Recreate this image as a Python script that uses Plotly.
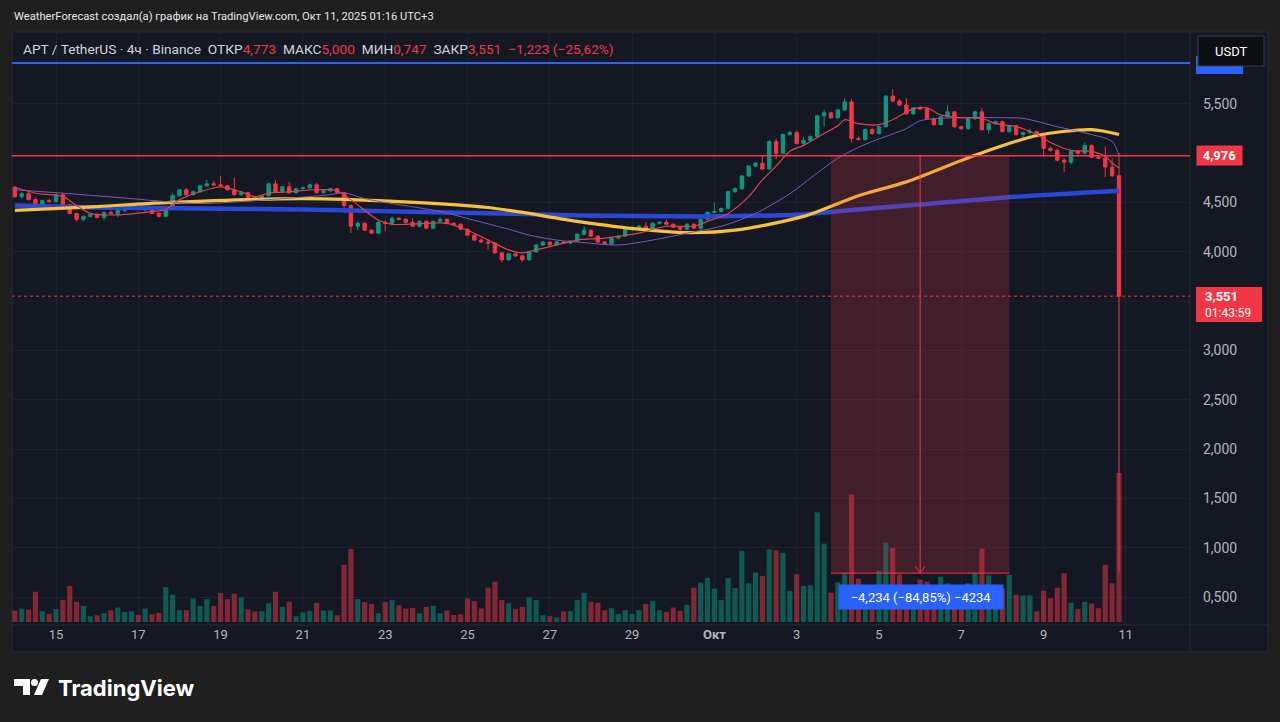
import plotly.graph_objects as go
import pandas as pd

# APT/USDT, 4h bars (UTC+3), first bar Sep 14 03:00, last bar Oct 10 23:00
bar_start = "2025-09-14 03:00"

opens = [4.655, 4.56, 4.59, 4.53, 4.48, 4.52, 4.51, 4.58, 4.48, 4.39,
         4.33, 4.36, 4.38, 4.35, 4.40, 4.39, 4.42, 4.44, 4.45, 4.43,
         4.44, 4.39, 4.36, 4.46, 4.57, 4.63, 4.58, 4.61, 4.67, 4.69,
         4.68, 4.67, 4.63, 4.58, 4.60, 4.55, 4.54, 4.57, 4.69, 4.61,
         4.66, 4.60, 4.64, 4.65, 4.68, 4.60, 4.62, 4.64, 4.60, 4.47,
         4.26, 4.29, 4.22, 4.19, 4.30, 4.29, 4.34, 4.33, 4.30, 4.26,
         4.31, 4.24, 4.31, 4.33, 4.29, 4.28, 4.23, 4.17, 4.12, 4.10,
         4.09, 3.99, 3.92, 3.98, 3.96, 3.92, 4.00, 4.07, 4.10, 4.07,
         4.10, 4.09, 4.11, 4.18, 4.22, 4.16, 4.10, 4.08, 4.14, 4.16,
         4.23, 4.25, 4.26, 4.23, 4.29, 4.30, 4.28, 4.25, 4.23, 4.28,
         4.24, 4.33, 4.40, 4.41, 4.44, 4.61, 4.64, 4.77, 4.87, 4.90,
         4.84, 5.12, 5.00, 5.19, 5.21, 5.10, 5.13, 5.17, 5.38, 5.41,
         5.36, 5.44, 5.52, 5.15, 5.14, 5.24, 5.20, 5.27, 5.58, 5.53,
         5.49, 5.40, 5.46, 5.45, 5.35, 5.29, 5.37, 5.42, 5.27, 5.25,
         5.35, 5.42, 5.24, 5.30, 5.32, 5.22, 5.28, 5.19, 5.21, 5.22,
         5.18, 5.05, 5.03, 4.93, 4.91, 5.02, 5.00, 5.08, 4.96, 4.95,
         4.86, 4.773]
highs = [4.67, 4.61, 4.61, 4.55, 4.53, 4.54, 4.59, 4.60, 4.49, 4.40,
         4.37, 4.39, 4.39, 4.41, 4.42, 4.43, 4.45, 4.46, 4.46, 4.45,
         4.45, 4.41, 4.47, 4.60, 4.64, 4.65, 4.62, 4.68, 4.73, 4.72,
         4.77, 4.68, 4.75, 4.62, 4.61, 4.56, 4.58, 4.70, 4.73, 4.67,
         4.71, 4.65, 4.66, 4.69, 4.70, 4.63, 4.65, 4.65, 4.61, 4.48,
         4.31, 4.30, 4.23, 4.31, 4.32, 4.36, 4.35, 4.34, 4.34, 4.32,
         4.32, 4.32, 4.35, 4.34, 4.30, 4.29, 4.24, 4.18, 4.14, 4.13,
         4.10, 4.00, 3.99, 3.99, 3.97, 4.01, 4.08, 4.11, 4.11, 4.11,
         4.11, 4.12, 4.19, 4.26, 4.23, 4.17, 4.11, 4.15, 4.17, 4.24,
         4.26, 4.27, 4.30, 4.30, 4.31, 4.33, 4.29, 4.26, 4.29, 4.29,
         4.34, 4.41, 4.50, 4.45, 4.62, 4.66, 4.78, 4.88, 4.91, 4.98,
         5.13, 5.15, 5.20, 5.23, 5.23, 5.17, 5.18, 5.39, 5.44, 5.42,
         5.45, 5.56, 5.55, 5.17, 5.25, 5.26, 5.28, 5.59, 5.65, 5.55,
         5.56, 5.47, 5.48, 5.47, 5.36, 5.38, 5.49, 5.43, 5.28, 5.36,
         5.43, 5.46, 5.31, 5.33, 5.33, 5.29, 5.29, 5.22, 5.25, 5.23,
         5.19, 5.07, 5.05, 4.95, 5.03, 5.03, 5.11, 5.09, 4.98, 5.07,
         4.95, 5.000]
lows = [4.55, 4.54, 4.52, 4.47, 4.46, 4.50, 4.50, 4.46, 4.38, 4.31,
        4.31, 4.35, 4.34, 4.32, 4.38, 4.35, 4.40, 4.43, 4.42, 4.40,
        4.38, 4.35, 4.35, 4.45, 4.56, 4.55, 4.57, 4.60, 4.66, 4.67,
        4.66, 4.62, 4.57, 4.57, 4.54, 4.52, 4.53, 4.56, 4.60, 4.60,
        4.59, 4.59, 4.62, 4.63, 4.59, 4.59, 4.60, 4.59, 4.40, 4.19,
        4.22, 4.21, 4.18, 4.18, 4.21, 4.27, 4.32, 4.29, 4.25, 4.25,
        4.23, 4.23, 4.30, 4.28, 4.26, 4.22, 4.16, 4.11, 4.09, 4.02,
        3.98, 3.89, 3.91, 3.95, 3.90, 3.91, 3.99, 4.06, 4.06, 4.06,
        4.08, 4.08, 4.10, 4.17, 4.15, 4.09, 4.07, 4.07, 4.13, 4.15,
        4.21, 4.23, 4.21, 4.21, 4.28, 4.27, 4.24, 4.22, 4.22, 4.23,
        4.22, 4.32, 4.39, 4.40, 4.43, 4.60, 4.63, 4.76, 4.86, 4.83,
        4.83, 4.94, 4.99, 5.18, 5.09, 5.08, 5.12, 5.16, 5.27, 5.35,
        5.35, 5.43, 5.11, 5.13, 5.13, 5.19, 5.19, 5.26, 5.52, 5.48,
        5.39, 5.39, 5.44, 5.34, 5.28, 5.28, 5.36, 5.26, 5.24, 5.24,
        5.34, 5.23, 5.20, 5.29, 5.21, 5.21, 5.18, 5.16, 5.19, 5.17,
        4.98, 5.02, 4.92, 4.81, 4.89, 4.99, 4.99, 4.95, 4.94, 4.76,
        4.76, 0.747]
closes = [4.56, 4.59, 4.53, 4.48, 4.52, 4.51, 4.58, 4.48, 4.39, 4.33,
          4.36, 4.38, 4.35, 4.40, 4.39, 4.42, 4.44, 4.45, 4.43, 4.44,
          4.39, 4.36, 4.46, 4.57, 4.63, 4.58, 4.61, 4.67, 4.69, 4.68,
          4.67, 4.63, 4.58, 4.60, 4.55, 4.54, 4.57, 4.69, 4.61, 4.66,
          4.60, 4.64, 4.65, 4.68, 4.60, 4.62, 4.64, 4.60, 4.47, 4.26,
          4.29, 4.22, 4.19, 4.30, 4.29, 4.34, 4.33, 4.30, 4.26, 4.31,
          4.24, 4.31, 4.33, 4.29, 4.28, 4.23, 4.17, 4.12, 4.10, 4.09,
          3.99, 3.92, 3.98, 3.96, 3.92, 4.00, 4.07, 4.10, 4.07, 4.10,
          4.09, 4.11, 4.18, 4.22, 4.16, 4.10, 4.08, 4.14, 4.16, 4.23,
          4.25, 4.26, 4.22, 4.29, 4.30, 4.28, 4.25, 4.23, 4.28, 4.24,
          4.33, 4.40, 4.41, 4.44, 4.61, 4.64, 4.77, 4.87, 4.90, 4.84,
          5.12, 5.00, 5.19, 5.21, 5.10, 5.13, 5.17, 5.38, 5.41, 5.36,
          5.44, 5.52, 5.15, 5.14, 5.24, 5.20, 5.27, 5.58, 5.53, 5.49,
          5.40, 5.46, 5.45, 5.35, 5.29, 5.37, 5.42, 5.27, 5.25, 5.35,
          5.42, 5.24, 5.30, 5.32, 5.22, 5.28, 5.19, 5.21, 5.22, 5.18,
          5.05, 5.03, 4.93, 4.91, 5.02, 5.00, 5.08, 4.96, 4.95, 4.86,
          4.773, 3.551]
volume = [34, 40, 37, 90, 32, 24, 38, 65, 107, 60,
          48, 17, 20, 26, 35, 43, 30, 32, 21, 40,
          23, 27, 104, 81, 35, 35, 70, 48, 68, 48,
          86, 68, 84, 73, 38, 32, 32, 56, 90, 45,
          60, 17, 29, 32, 57, 34, 34, 20, 170, 217,
          68, 59, 54, 26, 59, 65, 50, 40, 42, 26,
          45, 48, 26, 34, 21, 23, 70, 62, 40, 102,
          120, 65, 56, 38, 45, 73, 65, 20, 17, 14,
          32, 33, 65, 87, 60, 57, 35, 41, 24, 35,
          24, 35, 54, 63, 35, 30, 43, 33, 51, 102,
          117, 131, 99, 65, 131, 101, 211, 115, 147, 137,
          216, 213, 206, 93, 142, 107, 109, 326, 233, 87,
          118, 146, 379, 129, 90, 80, 153, 236, 220, 141,
          100, 90, 126, 120, 95, 135, 115, 100, 110, 115,
          145, 218, 139, 105, 100, 140, 81, 79, 79, 32,
          93, 71, 102, 145, 57, 39, 60, 55, 41, 170,
          115, 443]

# moving averages at (bar index, value)
red_idx = [0, 3, 7, 9, 11, 15, 20, 22, 24, 28, 30, 33, 35, 37, 40, 44, 47, 49, 53, 55,
           60, 63, 66, 69, 72, 74, 76, 79, 82, 86, 91, 95, 99, 101, 104, 107, 109, 111, 113, 115,
           118, 120, 121, 123, 126, 128, 131, 133, 135, 138, 141, 143, 146, 149, 151, 154, 157, 159, 160, 161]
red_val = [4.655, 4.595, 4.56, 4.47, 4.39, 4.375, 4.41, 4.43, 4.53, 4.63, 4.66, 4.61, 4.56, 4.595, 4.61, 4.63, 4.62, 4.53, 4.32, 4.28,
           4.29, 4.29, 4.22, 4.12, 4.02, 3.99, 4.02, 4.07, 4.12, 4.14, 4.19, 4.26, 4.26, 4.31, 4.39, 4.56, 4.73, 4.87, 5.02, 5.08,
           5.20, 5.28, 5.34, 5.30, 5.29, 5.34, 5.45, 5.46, 5.39, 5.36, 5.355, 5.30, 5.27, 5.19, 5.11, 5.03, 5.02, 4.97, 4.90, 4.85]
purple_idx = [0, 8, 17, 22, 27, 37, 46, 48, 51, 55, 62, 67, 72, 75, 79, 82, 88, 93, 98, 103,
              108, 113, 117, 120, 123, 125, 130, 132, 137, 145, 147, 152, 157, 160, 161]
purple_val = [4.63, 4.59, 4.54, 4.51, 4.49, 4.53, 4.58, 4.60, 4.54, 4.49, 4.41, 4.32, 4.23, 4.17, 4.12, 4.10, 4.07, 4.12, 4.19, 4.26,
              4.39, 4.59, 4.80, 4.95, 5.06, 5.12, 5.25, 5.33, 5.36, 5.36, 5.355, 5.27, 5.19, 5.12, 4.98]
yellow_idx = [0, 12, 22, 42, 56, 69, 82, 91, 98, 105, 115, 123, 130, 140, 149, 157, 161]
yellow_val = [4.42, 4.46, 4.50, 4.54, 4.51, 4.45, 4.31, 4.23, 4.195, 4.22, 4.36, 4.57, 4.71, 4.98, 5.18, 5.24, 5.19]
blue_idx = [0, 12, 27, 42, 56, 71, 82, 100, 111, 115, 123, 132, 144, 161]
blue_val = [4.47, 4.45, 4.44, 4.43, 4.41, 4.39, 4.37, 4.36, 4.37, 4.38, 4.43, 4.48, 4.55, 4.62]

# 5,000 and 3,500 are hidden behind the price labels in the original
price_ticks = [0.5, 1.0, 1.5, 2.0, 2.5, 3.0, 4.0, 4.5, 5.5]
hidden_grid = [3.5, 5.0]
tick_dates = ["2025-09-15 03:00", "2025-09-17 03:00", "2025-09-19 03:00", "2025-09-21 03:00",
              "2025-09-23 03:00", "2025-09-25 03:00", "2025-09-27 03:00", "2025-09-29 03:00",
              "2025-10-01 03:00", "2025-10-03 03:00", "2025-10-05 03:00", "2025-10-07 03:00",
              "2025-10-09 03:00", "2025-10-11 03:00"]
tick_labels = ["15", "17", "19", "21", "23", "25", "27", "29", "<b>Окт</b>", "3", "5", "7", "9", "11"]

level_line = 4.976
last_price = 3.551
top_line = 5.916
measure_low = 0.742
measure_from, measure_to, measure_mid = 119, 145, 132

UP = "#089981"
DOWN = "#f23645"
BLUE = "#2962ff"
GRID = "#1e2230"
PANEL = "#141823"
FONT = "Roboto, 'Open Sans', sans-serif"

times = pd.date_range(bar_start, periods=len(closes), freq="4h")

# plot area in pixels
L, R, T, B = 12, 1190, 32, 625


def px(x):
    return (x - L) / (R - L)


def py(y):
    return (B - y) / (B - T)


def path(points):
    return "M " + " L ".join(f"{px(a):.5f},{py(b):.5f}" for a, b in points) + " Z"


vol_colors = ["rgba(8,153,129,0.5)" if c >= o else "rgba(242,54,69,0.5)" for o, c in zip(opens, closes)]

fig = go.Figure()

fig.add_trace(go.Bar(x=times, y=volume, marker_color=vol_colors, marker_line_width=0,
                     width=4 * 3600 * 1000 * 0.76, yaxis="y2", hoverinfo="skip"))

for idx, val, col, w in [(blue_idx, blue_val, "#2b47d8", 4.5),
                         (yellow_idx, yellow_val, "#f7c23a", 3.2),
                         (purple_idx, purple_val, "#7e57c2", 1),
                         (red_idx, red_val, "#e0434f", 1.2)]:
    fig.add_trace(go.Scatter(x=[times[i] for i in idx], y=val, mode="lines",
                             line=dict(color=col, width=w, shape="spline", smoothing=0.8),
                             hoverinfo="skip"))

fig.add_trace(go.Candlestick(x=times, open=opens, high=highs, low=lows, close=closes,
                             increasing=dict(line=dict(color=UP, width=1), fillcolor=UP),
                             decreasing=dict(line=dict(color=DOWN, width=1), fillcolor=DOWN),
                             hoverinfo="skip"))

shapes = [
    # chart panel and separators
    dict(type="rect", xref="paper", yref="paper", x0=px(12), x1=px(1268), y0=py(652), y1=py(32),
         fillcolor=PANEL, line=dict(color="#262a35", width=1), layer="below"),
    dict(type="line", xref="paper", yref="paper", x0=px(1190), x1=px(1190), y0=py(652), y1=py(32),
         line=dict(color="#262a35", width=1), layer="below"),
    dict(type="line", xref="paper", yref="paper", x0=px(12), x1=px(1268), y0=py(625), y1=py(625),
         line=dict(color="#262a35", width=1), layer="below"),
]
for g in hidden_grid:
    shapes.append(dict(type="line", xref="paper", yref="y", x0=0, x1=1, y0=g, y1=g,
                       line=dict(color=GRID, width=1), layer="below"))
shapes += [
    # horizontal price lines
    dict(type="line", xref="paper", yref="y", x0=0, x1=1, y0=top_line, y1=top_line,
         line=dict(color=BLUE, width=2)),
    dict(type="line", xref="paper", yref="y", x0=0, x1=1, y0=level_line, y1=level_line,
         line=dict(color=DOWN, width=1.5)),
    dict(type="line", xref="paper", yref="y", x0=0, x1=1, y0=last_price, y1=last_price,
         line=dict(color=DOWN, width=1, dash="dot")),
    # price range measurement
    dict(type="rect", xref="x", yref="y", x0=times[measure_from], x1=times[measure_to],
         y0=measure_low, y1=level_line, fillcolor="rgba(242,54,69,0.2)", line=dict(width=0)),
    dict(type="line", xref="x", yref="y", x0=times[measure_from], x1=times[measure_to],
         y0=measure_low, y1=measure_low, line=dict(color=DOWN, width=1)),
    dict(type="line", xref="x", yref="y", x0=times[measure_mid], x1=times[measure_mid],
         y0=measure_low, y1=level_line, line=dict(color=DOWN, width=1)),
    dict(type="path", xref="x", yref="y", xsizemode="pixel", ysizemode="pixel",
         xanchor=times[measure_mid], yanchor=measure_low, path="M -5,7 L 0,0 L 5,7",
         line=dict(color=DOWN, width=1)),
    # right axis labels
    dict(type="rect", xref="paper", yref="paper", x0=px(1196), x1=px(1243), y0=py(74), y1=py(56),
         fillcolor=BLUE, line=dict(width=0)),
    dict(type="rect", xref="paper", yref="paper", x0=px(1198), x1=px(1264), y0=py(66), y1=py(36),
         fillcolor="#0e0f13", line=dict(color="#3a3e4a", width=1)),
    dict(type="rect", xref="paper", yref="paper", x0=px(1196), x1=px(1262), y0=py(322), y1=py(287),
         fillcolor=DOWN, line=dict(width=0)),
    # TradingView logo
    dict(type="path", xref="paper", yref="paper",
         path=path([(14, 679), (30, 679), (30, 695), (23, 695), (23, 686), (14, 686)]),
         fillcolor="#ffffff", line=dict(width=0)),
    dict(type="circle", xref="paper", yref="paper", x0=px(31), x1=px(38), y0=py(686), y1=py(679),
         fillcolor="#ffffff", line=dict(width=0)),
    dict(type="path", xref="paper", yref="paper",
         path=path([(41, 679), (49, 679), (42, 695), (34, 695)]),
         fillcolor="#ffffff", line=dict(width=0)),
]

sp = "\u00a0"
red = lambda s: f"<span style='color:{DOWN}'>{s}</span>"
header = ("APT / TetherUS · 4ч · Binance" + sp * 2 + "ОТКР" + red("4,773") + sp * 2 + "МАКС" + red("5,000")
          + sp * 2 + "МИН" + red("0,747") + sp * 2 + "ЗАКР" + red("3,551") + sp * 2 + red("−1,223 (−25,62%)"))

annotations = [
    dict(xref="paper", yref="paper", x=px(12), y=py(16), xanchor="left", yanchor="middle", showarrow=False,
         text="WeatherForecast создал(а) график на TradingView.com, Окт 11, 2025 01:16 UTC+3",
         font=dict(family=FONT, size=11.2, color="#e6e6e6")),
    dict(xref="paper", yref="paper", x=px(21), y=py(49), xanchor="left", yanchor="middle", showarrow=False,
         text=header, font=dict(family=FONT, size=13.7, color="#d1d4dc")),
    dict(xref="paper", yref="paper", x=px(1231), y=py(51), xanchor="center", yanchor="middle",
         showarrow=False, text="USDT", font=dict(family=FONT, size=13, color="#ffffff")),
    dict(xref="paper", yref="y", x=px(1196), y=level_line, xanchor="left", yanchor="middle", showarrow=False,
         text="<b>4,976</b>", bgcolor=DOWN, width=41, height=15, borderpad=2,
         font=dict(family=FONT, size=13, color="#ffffff")),
    dict(xref="paper", yref="paper", x=px(1203), y=py(296.5), xanchor="left", yanchor="middle", showarrow=False,
         text="<b>3,551</b>", font=dict(family=FONT, size=13, color="#ffffff")),
    dict(xref="paper", yref="paper", x=px(1203), y=py(313), xanchor="left", yanchor="middle", showarrow=False,
         text="01:43:59", font=dict(family=FONT, size=12, color="#ffffff")),
    dict(xref="paper", yref="paper", x=px(921), y=py(597), xanchor="center", yanchor="middle", showarrow=False,
         text="−4,234 (−84,85%) −4234", bgcolor=BLUE, width=158, height=18, borderpad=3,
         font=dict(family=FONT, size=13, color="#ffffff")),
    dict(xref="paper", yref="paper", x=px(56), y=py(688), xanchor="left", yanchor="middle", showarrow=False,
         text="<b>TradingView</b>", font=dict(family="Inter, Roboto, sans-serif", size=22, color="#ffffff")),
]

fig.update_layout(
    width=1280, height=722, autosize=False,
    margin=dict(l=L, r=1280 - R, t=T, b=722 - B),
    paper_bgcolor="#1f1f1f", plot_bgcolor="rgba(0,0,0,0)",
    showlegend=False, separators=", ",
    font=dict(family=FONT, color="#b2b5be", size=12),
    shapes=shapes, annotations=annotations,
    xaxis=dict(type="date", range=["2025-09-14 01:20", "2025-10-12 16:24"],
               tickvals=tick_dates, ticktext=tick_labels, showgrid=True, gridcolor=GRID,
               zeroline=False, showline=False, ticks="", rangeslider=dict(visible=False),
               tickfont=dict(size=13, color="#b2b5be")),
    yaxis=dict(side="right", range=[0.216, 6.23], tickvals=price_ticks, tickformat=".3f",
               showgrid=True, gridcolor=GRID, zeroline=False, showline=False, ticks="",
               ticklabelstandoff=12, tickfont=dict(size=14, color="#b2b5be")),
    yaxis2=dict(overlaying="y", range=[-8.9, 1754], visible=False),
)

fig.write_html("out.html", config=dict(displayModeBar=False),
               post_script="document.body.style.margin='0px';")
